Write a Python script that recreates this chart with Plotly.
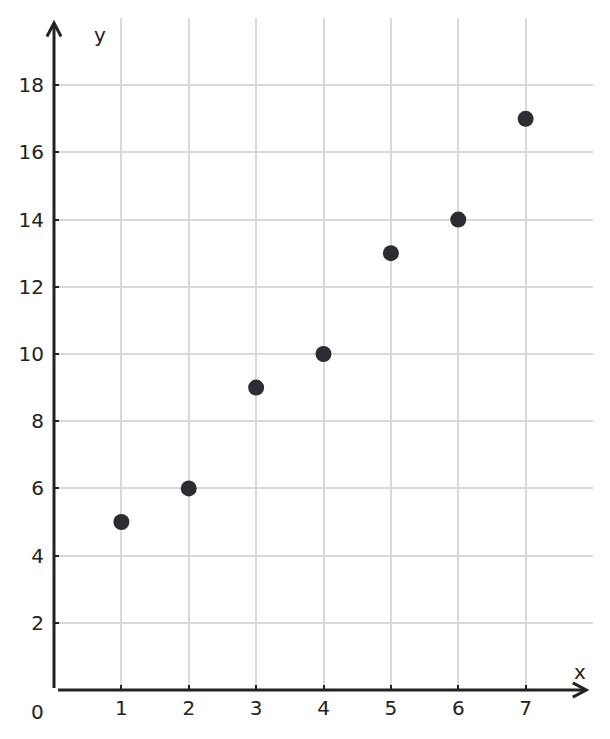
import plotly.graph_objects as go

# data
x_vals = [1, 2, 3, 4, 5, 6, 7]
y_vals = [5, 6, 9, 10, 13, 14, 17]
x_ticks = [1, 2, 3, 4, 5, 6, 7]
y_ticks = [2, 4, 6, 8, 10, 12, 14, 16, 18]

X_MAX, Y_MAX = 8, 20
INK = "#222222"
FONT = dict(family="DejaVu Sans", size=20, color=INK)


def px_(v):
    # data x -> paper x
    return v / X_MAX


def py_(v):
    # data y -> paper y
    return v / Y_MAX


fig = go.Figure()
fig.add_trace(go.Scatter(
    x=x_vals, y=y_vals, mode="markers",
    marker=dict(size=16, color="#2b2d33"),
    cliponaxis=False, showlegend=False,
))

axis_line = dict(color=INK, width=3)
shapes = [
    # x axis + arrow
    dict(type="line", xref="paper", yref="paper",
         x0=px_(0.06), y0=0, x1=px_(7.89), y1=0, line=axis_line),
    dict(type="path", xref="paper", yref="paper",
         path="M %f,%f L %f,%f L %f,%f" % (px_(7.70), py_(0.21), px_(7.90), 0, px_(7.70), py_(-0.21)),
         line=axis_line),
    # y axis + arrow
    dict(type="line", xref="paper", yref="paper",
         x0=0, y0=py_(0.06), x1=0, y1=py_(19.82), line=axis_line),
    dict(type="path", xref="paper", yref="paper",
         path="M %f,%f L %f,%f L %f,%f" % (px_(-0.105), py_(19.45), 0, py_(19.85), px_(0.105), py_(19.45)),
         line=axis_line),
]

annotations = [
    dict(text="0", x=0, y=0, xref="paper", yref="paper", showarrow=False,
         xanchor="center", yanchor="top", xshift=-17, yshift=-8, font=FONT),
    dict(text="x", x=px_(7.8), y=py_(0.55), xref="paper", yref="paper", showarrow=False,
         xanchor="center", yanchor="middle", font=FONT),
    dict(text="y", x=px_(0.68), y=py_(19.5), xref="paper", yref="paper", showarrow=False,
         xanchor="center", yanchor="middle", font=FONT),
]

# page has an 8px body margin, so the figure is a bit smaller than the window
fig.update_layout(
    width=594, height=723,
    margin=dict(l=46, r=9, t=10, b=41),
    plot_bgcolor="white", paper_bgcolor="white",
    shapes=shapes, annotations=annotations,
    font=FONT,
)
fig.update_xaxes(
    range=[0, X_MAX], tickvals=x_ticks, showgrid=True, gridcolor="#d9d9d9", gridwidth=1.5,
    zeroline=False, showline=False, ticks="inside", ticklen=5, tickwidth=2, tickcolor=INK,
    ticklabelstandoff=4, fixedrange=True,
)
fig.update_yaxes(
    range=[0, Y_MAX], tickvals=y_ticks, showgrid=True, gridcolor="#d9d9d9", gridwidth=1.5,
    zeroline=False, showline=False, ticks="inside", ticklen=5, tickwidth=2, tickcolor=INK,
    ticklabelstandoff=9, fixedrange=True,
)

fig.write_html("out.html")
